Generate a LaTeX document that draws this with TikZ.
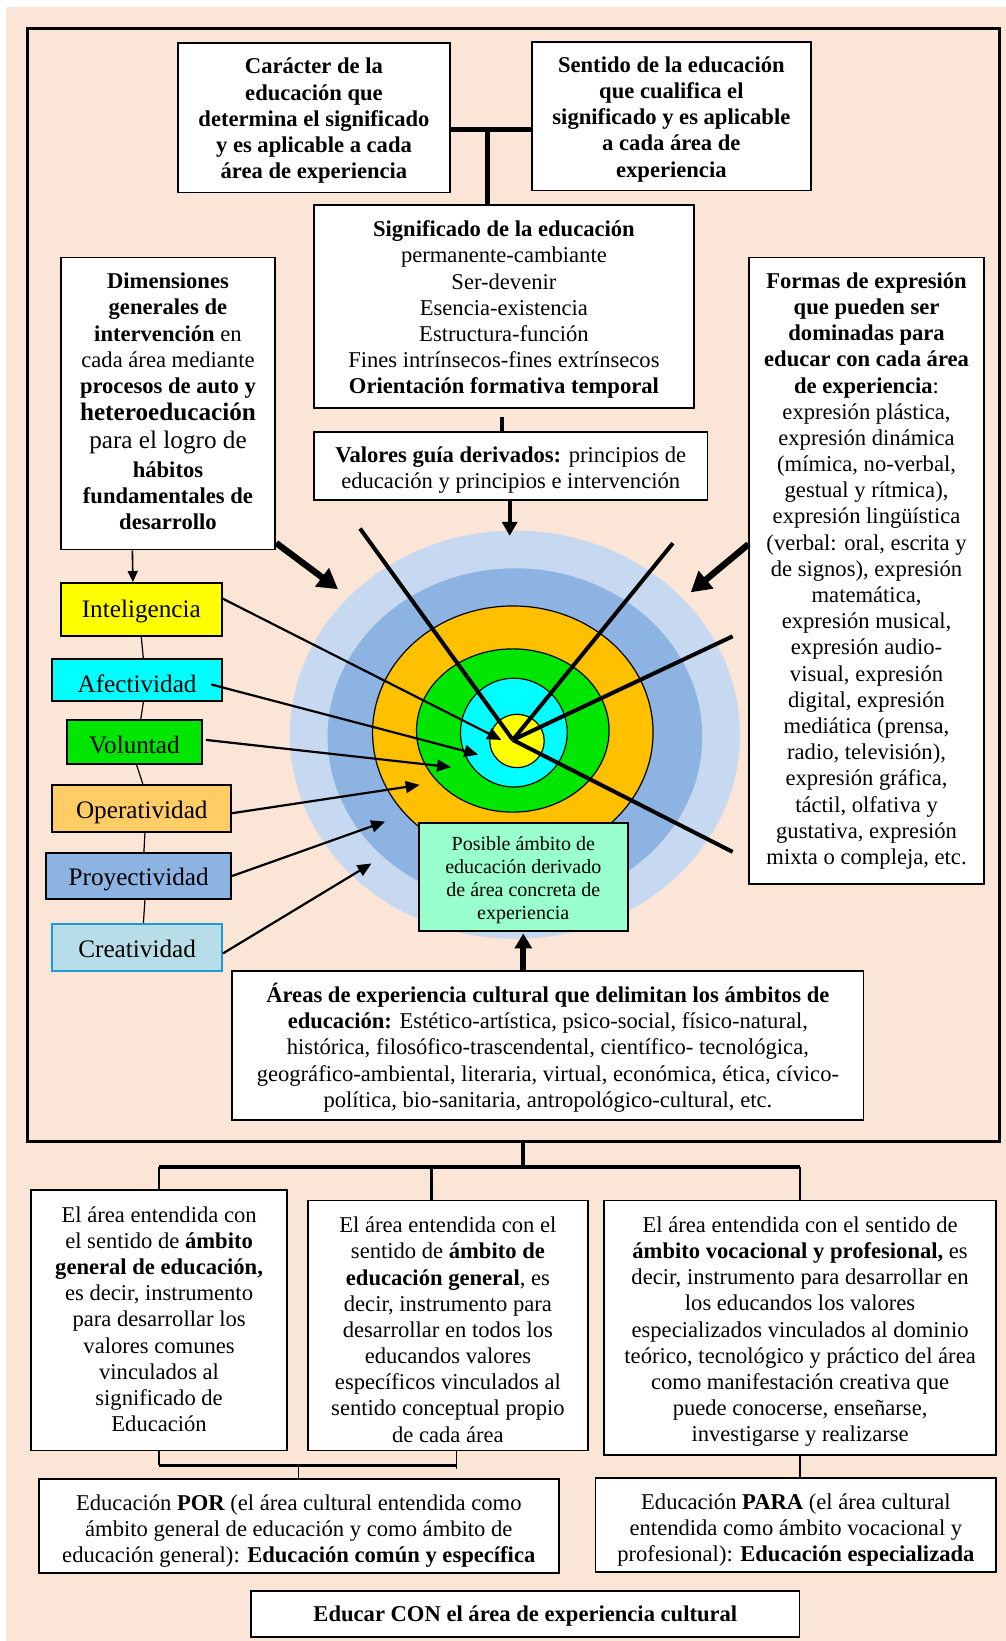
\documentclass[tikz,border=0pt]{standalone}
\usepackage{fontspec}
\setmainfont{Liberation Serif}
\usetikzlibrary{arrows.meta}
\def\U{0.5234pt}
\definecolor{peach}{HTML}{FBE5D6}
\definecolor{lblue}{HTML}{C6D9F1}
\definecolor{mblue}{HTML}{8DB3E2}
\definecolor{gold}{HTML}{FFC000}
\definecolor{vgreen}{HTML}{00E600}
\definecolor{lorange}{HTML}{FFCC66}
\definecolor{cblue}{HTML}{B7DDE8}
\definecolor{cborder}{HTML}{1E9BD7}
\definecolor{mint}{HTML}{99FFCC}
\definecolor{pcyan}{HTML}{00FFFF}
\definecolor{pyellow}{HTML}{FFFF00}
\newcommand{\myfn}{\fontsize{11.3}{13.1}\selectfont}
\newcommand{\myfbig}{\fontsize{12.6}{14.6}\selectfont}
\newcommand{\myfsm}{\fontsize{10}{11.5}\selectfont}
% #1 style, #2 name, #3 (cx,cy), #4 width, #5 height, #6 text shift down, #7 text
\newcommand{\bx}[7][]{%
  \node[box,#1,sz={#4}{#5}] (#2) at #3 {};
  \node[txt,#1,draw=none,fill=none] (#2T) at ([yshift={-(#6)*\U}]#2.center) {#7};}
\begin{document}
\begin{tikzpicture}[x=0.5234pt, y=-0.5234pt,
  box/.style={draw=black, line width=0.9pt, fill=white, inner sep=0pt},
  txt/.style={align=center, inner sep=0pt, font=\myfn},
  sz/.style 2 args={minimum width=#1*\U, minimum height=#2*\U},
  thinarrow/.style={line width=1.1pt, -{Triangle[length=7pt,width=6pt]}},
  bigarrow/.style={line width=3.2pt, -{Triangle[length=10pt,width=11pt]}},
  radial/.style={line width=2pt},
  ring/.style={draw=black, line width=0.6pt},
  link/.style={line width=0.6pt}]
\fill[white] (0,0) rectangle (961,1568);
\fill[peach] (5.7,6.7) rectangle (961,1568);
\useasboundingbox (0,0) rectangle (961,1568);

% frame
\node[draw=black, line width=1.6pt, sz={929}{1064}, inner sep=0pt] (frame) at (490.5,559) {};

% concentric rings
\fill[lblue] (492,702) ellipse [x radius=215*\U, y radius=195*\U];
\fill[mblue] (492,704) ellipse [x radius=179*\U, y radius=161*\U];
\filldraw[fill=gold, ring] (490,700) ellipse [x radius=134*\U, y radius=121*\U];
\filldraw[fill=vgreen, ring] (490,698) ellipse [x radius=92*\U, y radius=78*\U];
\filldraw[fill=pcyan, ring] (491,700) ellipse [x radius=51*\U, y radius=52*\U];
\filldraw[fill=pyellow, ring] (494,708) ellipse [x radius=26*\U, y radius=25.5*\U];

% radial lines
\coordinate (cc) at (490,707);
\coordinate (r1) at (344,505);
\coordinate (r2) at (643,519);
\coordinate (r3) at (700,608);
\coordinate (r4) at (700,814);
\draw[radial] (r1) -- (cc);
\draw[radial] (r2) -- (cc);
\draw[radial] (r3) -- (cc);
\draw[radial] (cc) -- (r4);

% top boxes
\bx[font=\myfn\bfseries]{car}{(300,112.5)}{260}{143}{3}{Carácter de la\\educación que\\determina el significado\\y es aplicable a cada\\área de experiencia}
\bx[font=\myfn\bfseries]{sen}{(641.5,111)}{267}{142}{3}{Sentido de la educación\\que cualifica el\\significado y es aplicable\\a cada área de\\experiencia}
\bx{sig}{(481.5,293)}{363}{194}{3}{{\bfseries Significado de la educación}\\permanente-cambiante\\Ser-devenir\\Esencia-existencia\\Estructura-función\\Fines intrínsecos-fines extrínsecos\\{\bfseries Orientación formativa temporal}}
\bx{val}{(488,445.5)}{376}{65}{4}{{\bfseries Valores guía derivados:} principios de\\educación y principios e intervención}

\coordinate (j1) at (466,124);
\draw[line width=2.6pt] ([yshift=-11.5*\U]car.east) -- ([yshift=-13*\U]sen.west);
\draw[line width=2.6pt] (j1) -- (j1 |- sig.north);
\draw[line width=2pt] ([xshift=-1.5*\U, yshift=-8*\U]sig.south) -- ([xshift=-8*\U]val.north);
\coordinate (vt) at (487,512);
\draw[line width=2pt, -{Triangle[length=7pt,width=7.5pt]}] ([xshift=-1*\U]val.south) -- (vt);

% side boxes
\bx{dim}{(160.5,385.5)}{205}{279}{-2}{{\bfseries Dimensiones}\\{\bfseries generales de}\\{\bfseries intervención} en\\cada área mediante\\{\bfseries procesos de auto y}\\[0.5pt]{\myfbig\bfseries heteroeducación}\\[1pt]{\myfbig para el logro de}\\[1pt]{\bfseries hábitos}\\{\bfseries fundamentales de}\\{\bfseries desarrollo}}
\bx{for}{(828,545.5)}{224}{599}{0}{{\bfseries Formas de expresión}\\{\bfseries que pueden ser}\\{\bfseries dominadas para}\\{\bfseries educar con cada área}\\{\bfseries de experiencia}:\\expresión plástica,\\expresión dinámica\\(mímica, no-verbal,\\gestual y rítmica),\\expresión lingüística\\(verbal: oral, escrita y\\de signos), expresión\\matemática,\\expresión musical,\\expresión audio-\\visual, expresión\\digital, expresión\\mediática (prensa,\\radio, televisión),\\expresión gráfica,\\táctil, olfativa y\\gustativa, expresión\\mixta o compleja, etc.}

\coordinate (dt) at (323,563);
\coordinate (ft) at (660,566);
\draw[bigarrow] ([yshift=7*\U]dim.south east) -- (dt);
\draw[bigarrow] ([yshift=25.5*\U]for.west) -- (ft);

% left column
\bx[font=\myfbig, fill=pyellow]{int}{(135,582.5)}{154}{51}{2}{Inteligencia}
\bx[font=\myfbig, fill=pcyan]{afe}{(131,650)}{162}{40}{3}{Afectividad}
\bx[font=\myfbig, fill=vgreen]{vol}{(128.5,709)}{129}{42}{3}{Voluntad}
\bx[font=\myfbig, fill=lorange]{ope}{(135.5,772.5)}{171}{45}{4}{Operatividad}
\bx[font=\myfbig, fill=mblue]{pro}{(132.5,837)}{177}{44}{3}{Proyectividad}
\bx[font=\myfbig, draw=cborder, line width=1.1pt, fill=cblue]{cre}{(131,905.5)}{162}{45}{1}{Creatividad}

\draw[line width=0.8pt, -{Triangle[length=5.5pt,width=5pt]}] ([xshift=-34*\U]dim.south) -- ([xshift=-8*\U]int.north);
\draw[link] (int.south) -- ([xshift=6*\U]afe.north);
\draw[link] ([xshift=6*\U]afe.south) -- ([xshift=6*\U]vol.north);
\draw[link] ([xshift=2*\U]vol.south) -- ([xshift=1*\U]ope.north);
\draw[link] ([xshift=3*\U]ope.south) -- ([xshift=5*\U]pro.north);
\draw[link] ([xshift=6*\U]pro.south) -- ([xshift=6*\U]cre.north);

\coordinate (t1) at (479,707);
\coordinate (t2) at (457,721);
\coordinate (t3) at (431,733);
\coordinate (t4) at (401,750);
\coordinate (t5) at (368,785);
\coordinate (t6) at (355,825);
\draw[thinarrow] ([yshift=10.5*\U]int.east) -- (t1);
\draw[thinarrow] ([xshift=-11*\U, yshift=-4*\U]afe.east) -- (t2);
\draw[thinarrow] ([xshift=3*\U, yshift=2*\U]vol.east) -- (t3);
\draw[thinarrow] ([yshift=-4.5*\U]ope.east) -- (t4);
\draw[thinarrow] (pro.east) -- (t5);
\draw[thinarrow] ([yshift=-5.5*\U]cre.east) -- (t6);

% possible ambit box
\bx[fill=mint, line width=1pt, font=\myfsm]{pos}{(500,838)}{200}{104}{3}{Posible ámbito de\\educación derivado\\de área concreta de\\experiencia}

% areas box
\bx{are}{(523.5,999)}{603}{142}{2}{{\bfseries Áreas de experiencia cultural que delimitan los ámbitos de}\\{\bfseries educación:} Estético-artística, psico-social, físico-natural,\\histórica, filosófico-trascendental, científico- tecnológica,\\geográfico-ambiental, literaria, virtual, económica, ética, cívico-\\política, bio-sanitaria, antropológico-cultural, etc.}
\draw[line width=3pt, -{Triangle[length=7.5pt,width=8.5pt]}] ([xshift=-23.5*\U]are.north) -- ([yshift=-1*\U]pos.south);

% bottom boxes
\bx{b1}{(152,1261.5)}{244}{249}{-1}{El área entendida con\\el sentido de {\bfseries ámbito}\\{\bfseries general de educación,}\\es decir, instrumento\\para desarrollar los\\valores comunes\\vinculados al\\significado de\\Educación}
\bx{b2}{(428,1266.5)}{268}{239}{4}{El área entendida con el\\sentido de {\bfseries ámbito de}\\{\bfseries educación general}, es\\decir, instrumento para\\desarrollar en todos los\\educandos valores\\específicos vinculados al\\sentido conceptual propio\\de cada área}
\bx{b3}{(764.5,1268.5)}{375}{243}{4}{El área entendida con el sentido de\\{\bfseries ámbito vocacional y profesional,} es\\decir, instrumento para desarrollar en\\los educandos los valores\\especializados vinculados al dominio\\teórico, tecnológico y práctico del área\\como manifestación creativa que\\puede conocerse, enseñarse,\\investigarse y realizarse}

\coordinate (fb) at (500,1092);
\coordinate (hb) at (500,1115);
\draw[line width=2.2pt] (fb) -- (hb);
\draw[line width=1.8pt] (b1.north |- hb) -- (b3.north |- hb);
\draw[line width=1.4pt] (b1.north |- hb) -- (b1.north);
\draw[line width=1.4pt] ([xshift=-16*\U]b2.north) -- ++(0,-32);
\draw[line width=1.4pt] (b3.north |- hb) -- (b3.north);

\bx{por}{(285.5,1458)}{497}{90}{5}{Educación {\bfseries POR} (el área cultural entendida como\\ámbito general de educación y como ámbito de\\educación general): {\bfseries Educación común y específica}}
\bx{para}{(760.5,1457)}{383}{90}{5}{Educación {\bfseries PARA} (el área cultural\\entendida como ámbito vocacional y\\profesional): {\bfseries Educación especializada}}
\bx[font=\myfn\bfseries]{con}{(502,1542)}{524}{44}{2}{Educar CON el área de experiencia cultural}

\coordinate (pj) at (285,1400);
\draw[link] (b1.south) -- (b1.south |- pj);
\draw[link] ([xshift=8*\U]b2.south) -- ++(0,17);
\draw[line width=1.4pt] (b1.south |- pj) -- ++(284,0);
\draw[link] (pj) -- (pj |- por.north);
\draw[link] (b3.south) -- (b3.south |- para.north);
\end{tikzpicture}
\end{document}
